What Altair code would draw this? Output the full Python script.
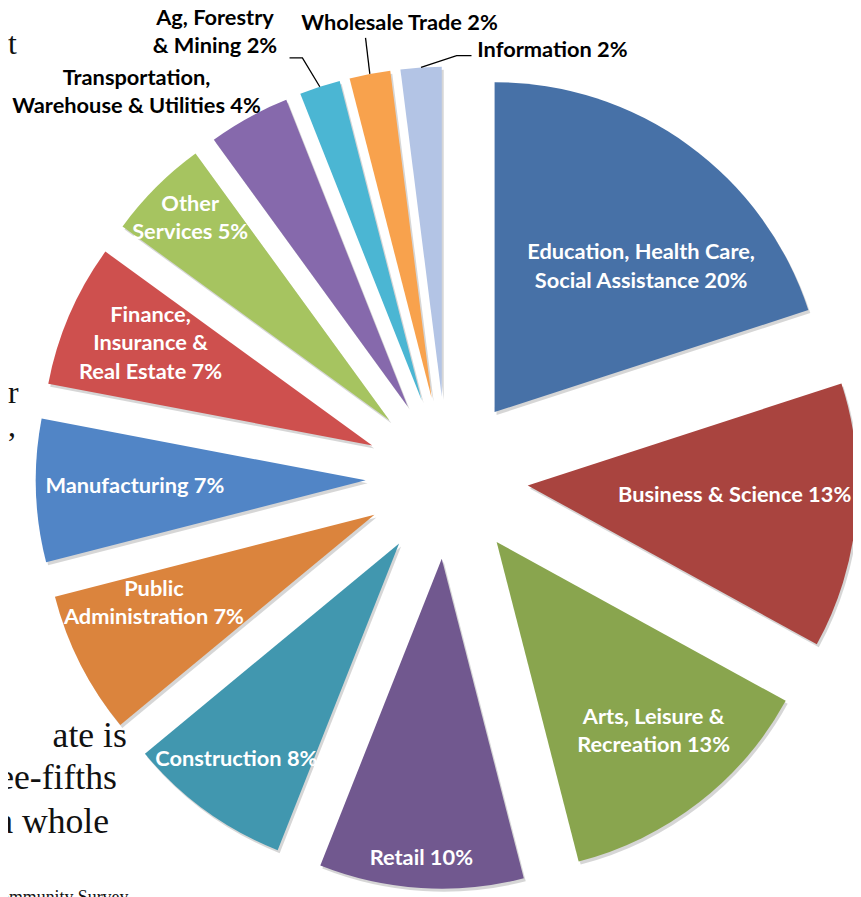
import math
import altair as alt
import pandas as pd

# ---------------- data ----------------
categories = [
    "Education, Health Care, Social Assistance",
    "Business & Science",
    "Arts, Leisure & Recreation",
    "Retail",
    "Construction",
    "Public Administration",
    "Manufacturing",
    "Finance, Insurance & Real Estate",
    "Other Services",
    "Transportation, Warehouse & Utilities",
    "Ag, Forestry & Mining",
    "Wholesale Trade",
    "Information",
]
shares = [20, 13, 13, 10, 8, 7, 7, 7, 5, 4, 2, 2, 2]
label_lines = [
    ["Education, Health Care,", "Social Assistance"],
    ["Business & Science"],
    ["Arts, Leisure &", "Recreation"],
    ["Retail"],
    ["Construction"],
    ["Public", "Administration"],
    ["Manufacturing"],
    ["Finance,", "Insurance &", "Real Estate"],
    ["Other", "Services"],
    ["Transportation,", "Warehouse & Utilities"],
    ["Ag, Forestry", "& Mining"],
    ["Wholesale Trade"],
    ["Information"],
]
colors = [
    "#4771A7", "#A9443F", "#89A54E", "#71588F", "#4197AF", "#DB843D",
    "#5185C6", "#CE504E", "#A6C460", "#8669AC", "#4BB6D3", "#F8A24D", "#B3C4E5",
]

# ---------------- layout / style ----------------
R = 333                 # pie radius in px
CX, CY = 443, 470       # pie centre (chart coords)
EXPLODE = 82 / R        # explosion distance (in radii)
FONT_SIZE = 22
LINE_H = 28.5
# label placement relative to the exploded slice tip: (angle deg, distance in radii)
label_place = [
    (45.2, 0.626), (92.6, 0.628), (140.3, 0.745), (183.9, 0.91), (217.0, 0.82),
    (248.2, 0.72), (268.5, 0.70), (294.7, 0.74), (315.4, 0.86), (319.2, 1.258),
    (330.7, 1.281), (355.1, 1.141), (17.7, 1.104),
]
# leader lines: category index -> (elbow angle, elbow distance, horizontal tail px)
leaders = {10: (340.8, 1.10, -13), 11: (349.6, 1.11, 0), 12: (2.5, 1.035, 15)}

total = sum(shares)
rows, lab_rows, line_rows = [], [], []
cum = 0
for i, (cat, s) in enumerate(zip(categories, shares)):
    start, end = cum, cum + s
    cum = end
    mid = (start + end) / 2 / total * 2 * math.pi
    ux, uy = EXPLODE * math.sin(mid), -EXPLODE * math.cos(mid)
    rows.append(dict(category=cat, start=start, end=end, ux=ux, uy=uy))
    ang, f = label_place[i]
    a = math.radians(ang)
    lines = list(label_lines[i])
    lines[-1] = f"{lines[-1]} {s}%"
    # first line sits on the anchor: shift the block so that it is centred
    shift = (len(lines) - 1) * LINE_H / 2 / R
    lab_rows.append(dict(
        category=cat, text="\n".join(lines),
        lx=ux + f * math.sin(a), ly=uy - f * math.cos(a) - shift,
        tcol="#000000" if f > 1 else "#FFFFFF",
    ))
    if i in leaders:
        eang, ef, tail = leaders[i]
        ea = math.radians(eang)
        p0 = (ux + math.sin(mid), uy - math.cos(mid))
        p1 = (ux + ef * math.sin(ea), uy - ef * math.cos(ea))
        pts = [p0, p1]
        if tail:
            pts.append((p1[0] + tail / R, p1[1]))
        for k, (px, py) in enumerate(pts):
            line_rows.append(dict(category=cat, k=k, px=px, py=py))

slices = pd.DataFrame(rows)
labels = pd.DataFrame(lab_rows)
leader_df = pd.DataFrame(line_rows)

xs = alt.Scale(domain=[-1, 1], range=[CX - R, CX + R], nice=False, zero=False)
ys = alt.Scale(domain=[-1, 1], range=[CY - R, CY + R], nice=False, zero=False)
ts = alt.Scale(domain=[0, total], range=[0, 2 * math.pi])

def arc_enc(ch):
    return ch.encode(
        x=alt.X("ux:Q", scale=xs, axis=None),
        y=alt.Y("uy:Q", scale=ys, axis=None),
        theta=alt.Theta("start:Q", scale=ts, stack=None),
        theta2="end:Q",
    )

shadow = arc_enc(alt.Chart(slices).mark_arc(
    radius=R, color="#000000", opacity=0.16, xOffset=2, yOffset=3))

pie = arc_enc(alt.Chart(slices).mark_arc(radius=R, strokeWidth=0)).encode(
    color=alt.Color("category:N", scale=alt.Scale(domain=categories, range=colors),
                    legend=None),
)

text = alt.Chart(labels).mark_text(
    font="Lato", fontWeight="bold", fontSize=FONT_SIZE, lineBreak="\n",
    lineHeight=LINE_H, align="center", baseline="middle",
).encode(
    x=alt.X("lx:Q", scale=xs, axis=None),
    y=alt.Y("ly:Q", scale=ys, axis=None),
    text="text:N",
    color=alt.Color("tcol:N", scale=None),
)

lead = alt.Chart(leader_df).mark_line(color="#000000", strokeWidth=1.3).encode(
    x=alt.X("px:Q", scale=xs, axis=None),
    y=alt.Y("py:Q", scale=ys, axis=None),
    detail="category:N",
    order="k:O",
)

# fragments of the surrounding document text (cut off at the image edge)
doc_bits = [
    ("t", 0, 42, "left", 32),
    ("r", 0, 395, "left", 32),
    (",", 0, 428, "left", 32),
    ("ate is", 120, 742, "right", 36),
    ("ee-fifths", 110, 784, "right", 36),
    ("a whole", 102, 829, "right", 36),
    ("ommunity Survey", -8, 899, "left", 18),
]
doc_layers = []
for t, x, y, al, fs in doc_bits:
    doc_layers.append(
        alt.Chart(alt.Data(values=[{}])).mark_text(
            text=t, font="Liberation Serif", fontSize=fs, align=al,
            baseline="alphabetic", color="#111111",
        ).encode(x=alt.value(x), y=alt.value(y))
    )

chart = alt.layer(*doc_layers, shadow, pie, lead, text).properties(
    width=853, height=889, autosize=alt.AutoSizeParams(type="none"), padding=0,
    background="#FFFFFF",
).configure_view(strokeWidth=0)

chart.save("out.html", embed_options={"renderer": "svg", "actions": False})
